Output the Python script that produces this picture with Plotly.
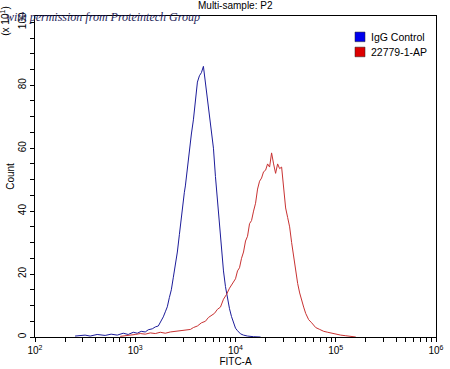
import plotly.graph_objects as go

# IgG Control (blue) - FITC-A values and counts
igg_fitc = [251, 316, 355, 417, 501, 575, 661, 759, 851, 955, 1047, 1148, 1259, 1349,
            1479, 1585, 1698, 1820, 1905, 1995, 2089, 2188, 2291, 2399, 2512, 2630,
            2754, 2884, 3020, 3090, 3162, 3311, 3467, 3631, 3802, 3890, 3981, 4169,
            4365, 4571, 4786, 5012, 5248, 5495, 5754, 6026, 6310, 6607, 6918, 7244,
            7586, 7943, 8318, 8710, 9120, 9550, 10000, 10471, 11220, 12023, 13183,
            15136, 17783]
igg_count = [0.3, 0.6, 0.3, 0.8, 0.5, 0.9, 0.6, 1.2, 0.8, 1.5, 1.2, 1.8, 1.6, 2.3,
             2.6, 3.2, 3.5, 5.0, 6.4, 8.0, 9.6, 12.5, 15.0, 19.0, 22.5, 27.0,
             32.5, 38.0, 45.0, 46.0, 48.0, 54.0, 59.0, 64.5, 69.0, 72.0, 76.0, 81.0,
             83.0, 84.0, 86.0, 81.0, 76.0, 70.5, 65.0, 60.0, 51.0, 43.0, 34.0, 27.0,
             21.0, 16.0, 12.0, 9.0, 6.5, 4.3, 2.8, 2.0, 1.0, 0.6, 0.3, 0.1, 0.0]

# 22779-1-AP (red)
ab_fitc = [708, 891, 1000, 1122, 1259, 1413, 1585, 1778, 1995, 2239, 2512, 2818,
           3162, 3548, 3802, 4169, 4571, 5012, 5370, 5754, 6166, 6607, 7079, 7586,
           8128, 8710, 9333, 10000, 10471, 10965, 11482, 12023, 12589, 13183, 13804,
           14454, 15136, 15849, 16596, 17378, 18197, 19055, 19953, 20893, 21878,
           22909, 23988, 25119, 26303, 27542, 28840, 30200, 31623, 33113, 34674,
           36308, 38019, 39811, 41687, 43652, 45709, 47863, 50119, 53703, 57544,
           63096, 69183, 75858, 83176, 91201, 100000, 112202, 125893, 141254, 158489]
ab_count = [0.2, 0.5, 0.8, 1.1, 0.9, 1.3, 1.1, 1.5, 1.2, 1.6, 1.8, 2.0,
            2.3, 2.4, 3.0, 3.5, 4.5, 5.0, 6.2, 6.8, 7.5, 8.8, 9.5, 12.0,
            13.5, 15.5, 17.0, 18.5, 21.0, 22.0, 25.0, 27.0, 30.5, 32.0, 36.0,
            37.0, 40.0, 42.5, 47.0, 49.5, 50.5, 52.5, 53.0, 55.0, 54.0,
            58.5, 55.0, 52.0, 55.0, 53.5, 54.0, 48.0, 41.0, 38.0, 35.0,
            30.0, 25.5, 21.0, 17.0, 14.0, 11.5, 9.5, 7.5, 5.5, 4.5,
            3.0, 2.4, 1.8, 1.5, 1.2, 0.8, 0.6, 0.4, 0.2, 0.0]

series_names = ["IgG Control", "22779-1-AP"]
decades = [2, 3, 4, 5, 6]
y_major = [0, 20, 40, 60, 80, 100]

BLUE_LINE = "#1c1c9a"
RED_LINE = "#c83232"
FONT = "Liberation Sans, Arial, sans-serif"

fig = go.Figure()
fig.add_trace(go.Scatter(x=igg_fitc, y=igg_count, mode="lines",
                         line=dict(color=BLUE_LINE, width=1), name=series_names[0],
                         showlegend=False))
fig.add_trace(go.Scatter(x=ab_fitc, y=ab_count, mode="lines",
                         line=dict(color=RED_LINE, width=1), name=series_names[1],
                         showlegend=False))

# x ticks: decades labelled, 2..9 multiples as unlabeled ticks
xtickvals, xticktext = [], []
for d in decades:
    for m in range(1, 10):
        if d == decades[-1] and m > 1:
            break
        xtickvals.append(m * 10 ** d)
        xticktext.append(f"10<sup>{d}</sup>" if m == 1 else "")

ytickvals = list(range(0, 101, 5))
yticktext = [str(v) if v in y_major else "" for v in ytickvals]

fig.update_layout(
    width=450, height=369,
    margin=dict(l=35, r=14, t=16, b=32),
    paper_bgcolor="white", plot_bgcolor="white",
    font=dict(family=FONT, size=10, color="black"),
    showlegend=False,
    xaxis=dict(type="log", range=[2, 6], tickvals=xtickvals, ticktext=xticktext,
               ticks="outside", ticklen=4, tickcolor="black", showgrid=False,
               zeroline=False, showline=True, linecolor="black", linewidth=1,
               mirror=True, tickfont=dict(size=10), tickangle=0, automargin=False,
               title=dict(text="FITC-A", font=dict(size=10), standoff=0)),
    yaxis=dict(range=[0, 102], tickvals=ytickvals, ticktext=yticktext,
               ticks="outside", ticklen=4, tickcolor="black", showgrid=False,
               zeroline=False, showline=True, linecolor="black", linewidth=1,
               mirror=True, tickangle=-90, tickfont=dict(size=10), automargin=False,
               title=dict(text="Count", font=dict(size=10), standoff=0)),
)

# Title
fig.add_annotation(text="Multi-sample: P2", xref="paper", yref="paper",
                   x=0.5, y=1.0, yshift=3, xanchor="center", yanchor="bottom",
                   showarrow=False, font=dict(size=10))
# multiplier
fig.add_annotation(text="(x 10<sup>1</sup>)", xref="paper", yref="paper",
                   x=-0.075, y=0.985, xanchor="center", yanchor="middle",
                   textangle=-90, showarrow=False, font=dict(size=10))
# watermark
fig.add_annotation(text="with permission from Proteintech Group", xref="paper",
                   yref="paper", x=-0.078, y=1.0, yshift=-1, xanchor="left",
                   yanchor="middle", showarrow=False,
                   font=dict(size=12, family="Liberation Serif, serif", color="#1e1e5a",
                             style="italic"))

# legend swatches
legend_colors = ["#0000ee", "#dd0000"]
legend_y = [0.935, 0.888]
for name, col, yy in zip(series_names, legend_colors, legend_y):
    fig.add_shape(type="rect", xref="paper", yref="paper",
                  x0=0.798, x1=0.823, y0=yy - 0.015, y1=yy + 0.015,
                  fillcolor=col, line=dict(color="#222222", width=0.5))
    fig.add_annotation(text=name, xref="paper", yref="paper", x=0.832, y=yy,
                       xanchor="left", yanchor="middle", showarrow=False,
                       font=dict(size=10.5))

fig.write_html("out.html", config={"displayModeBar": False},
               post_script="document.body.style.margin='0';document.body.style.overflow='hidden';")
